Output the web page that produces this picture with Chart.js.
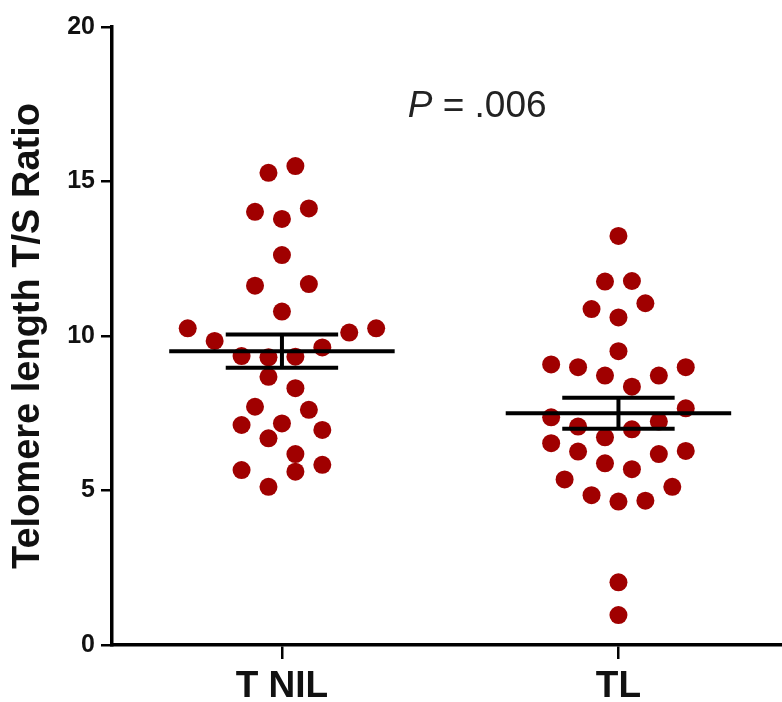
<!DOCTYPE html>
<html>
<head>
<meta charset="utf-8">
<script src="https://cdn.jsdelivr.net/npm/chart.js"></script>
<style>
  html, body { margin: 0; padding: 0; background: #fff; }
  #wrap { width: 782px; height: 702px; }
</style>
</head>
<body>
<div id="wrap"><canvas id="telomereChart"></canvas></div>

<script>
  // groups on the x axis
  const groups = ['T NIL', 'TL'];

  // T/S ratio of every sample
  const tnilValues = [15.28, 15.5, 14.02, 13.79, 14.13, 12.62, 11.63, 11.68, 10.79, 10.25,
                      9.84, 10.11, 10.25, 9.63, 9.35, 9.31, 9.33, 8.68, 8.31, 7.71,
                      7.61, 7.12, 7.17, 6.96, 6.69, 6.18, 5.66, 5.61, 5.83, 5.12];
  // horizontal scatter of each dot (beeswarm spread, in category units)
  const tnilSpread = [-0.04, 0.04, -0.08, 0, 0.08, 0, -0.08, 0.08, 0, -0.28,
                      -0.2, 0.2, 0.28, 0.12, -0.12, -0.04, 0.04, -0.04, 0.04, -0.08,
                      0.08, -0.12, 0, 0.12, -0.04, 0.04, -0.12, 0.04, 0.12, -0.04];

  const tlValues = [13.24, 11.76, 11.78, 10.87, 11.06, 10.6, 9.51, 9.08, 8.99, 8.72,
                    8.72, 8.99, 8.36, 7.66, 7.37, 7.07, 6.98, 7.23, 6.72, 6.53,
                    6.26, 6.18, 6.28, 5.88, 5.69, 5.36, 5.12, 4.85, 4.64, 4.67,
                    2.03, 0.97];
  const tlSpread = [0, -0.04, 0.04, -0.08, 0.08, 0, 0, -0.2, -0.12, -0.04,
                    0.12, 0.2, 0.04, 0.2, -0.2, -0.12, 0.04, 0.12, -0.04, -0.2,
                    -0.12, 0.12, 0.2, -0.04, 0.04, -0.16, 0.16, -0.08, 0, 0.08,
                    0, 0];

  // mean and SEM drawn over each group
  const means = [9.51, 7.5];
  const sems = [0.54, 0.5];

  const yTicks = [0, 5, 10, 15, 20];
  const pLabel = '.006';

  const dotColor = '#a00000';
  const meanHalf = 0.335;
  const capHalf = 0.167;

  function dots(values, spread, gi) {
    return values.map((v, i) => ({ x: gi + spread[i], y: v }));
  }

  function seg(points) {
    return {
      type: 'line', data: points, borderColor: '#000', borderWidth: 4,
      pointRadius: 0, fill: false, order: 0, borderCapStyle: 'butt'
    };
  }

  const datasets = [];
  means.forEach((m, gi) => {
    const s = sems[gi];
    datasets.push(seg([{ x: gi - meanHalf, y: m }, { x: gi + meanHalf, y: m }]));
    datasets.push(seg([{ x: gi - capHalf, y: m + s }, { x: gi + capHalf, y: m + s }]));
    datasets.push(seg([{ x: gi - capHalf, y: m - s }, { x: gi + capHalf, y: m - s }]));
    datasets.push(seg([{ x: gi, y: m - s }, { x: gi, y: m + s }]));
  });
  [[tnilValues, tnilSpread], [tlValues, tlSpread]].forEach(([vals, spr], gi) => {
    datasets.push({
      type: 'scatter', data: dots(vals, spr, gi), order: 1,
      backgroundColor: dotColor, borderColor: dotColor, borderWidth: 0,
      pointRadius: 9, pointHoverRadius: 9
    });
  });

  // the P value written above the groups
  const pText = {
    id: 'pText',
    afterDraw(chart) {
      const c = chart.ctx;
      const x = chart.scales.x.getPixelForValue(0.58);
      const y = chart.scales.y.getPixelForValue(17.1);
      c.save();
      c.fillStyle = '#222';
      c.textBaseline = 'alphabetic';
      c.font = 'italic 37px "Liberation Sans", Arial, sans-serif';
      const pw = c.measureText('P').width;
      c.font = '37px "Liberation Sans", Arial, sans-serif';
      const rest = ' = ' + pLabel;
      const rw = c.measureText(rest).width;
      const x0 = x - (pw + rw) / 2;
      c.font = 'italic 37px "Liberation Sans", Arial, sans-serif';
      c.fillText('P', x0, y);
      c.font = '37px "Liberation Sans", Arial, sans-serif';
      c.fillText(rest, x0 + pw, y);
      c.restore();
    }
  };

  new Chart(document.getElementById('telomereChart'), {
    type: 'scatter',
    data: { datasets },
    options: {
      responsive: true,
      maintainAspectRatio: false,
      animation: false,
      layout: { autoPadding: false, padding: { top: 27, right: 0, bottom: 0, left: 0 } },
      plugins: { legend: { display: false }, tooltip: { enabled: false } },
      scales: {
        x: {
          type: 'linear',
          min: -0.505,
          max: 1.486,
          afterBuildTicks: (s) => { s.ticks = groups.map((g, i) => ({ value: i })); },
          afterFit: (s) => { s.height = 57; },
          ticks: {
            callback: (v) => groups[v],
            color: '#111',
            font: { family: '"Liberation Sans", Arial, sans-serif', size: 37, weight: 'bold' },
            padding: 6,
            maxRotation: 0
          },
          grid: { drawOnChartArea: false, drawTicks: true, tickLength: 14, color: '#000', lineWidth: 2.5 },
          border: { display: true, color: '#000', width: 3.5 }
        },
        y: {
          min: 0,
          max: 20,
          afterBuildTicks: (s) => { s.ticks = yTicks.map(v => ({ value: v })); },
          afterFit: (s) => { s.width = 112; },
          ticks: {
            color: '#111',
            font: { family: '"Liberation Sans", Arial, sans-serif', size: 25, weight: 'bold' },
            padding: 6
          },
          grid: { drawOnChartArea: false, drawTicks: true, tickLength: 11, color: '#000', lineWidth: 2.5 },
          border: { display: true, color: '#000', width: 3.5 },
          title: {
            display: true,
            text: 'Telomere length T/S Ratio',
            color: '#111',
            font: { family: '"Liberation Sans", Arial, sans-serif', size: 38, weight: 'bold' },
            padding: { top: 6, bottom: 0 }
          }
        }
      }
    },
    plugins: [pText]
  });
</script>
</body>
</html>
